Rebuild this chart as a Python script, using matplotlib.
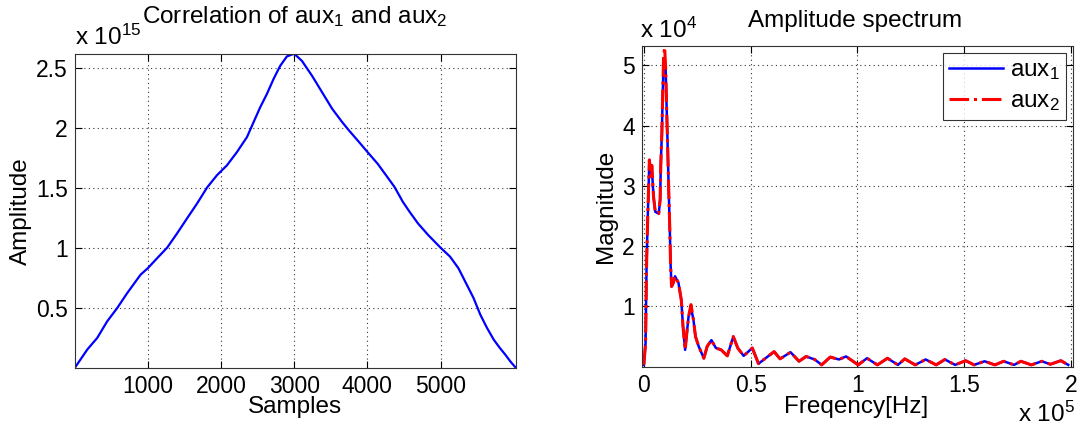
import matplotlib
matplotlib.use("Agg")
import matplotlib.pyplot as plt

plt.rcParams['font.family'] = ['Liberation Sans', 'DejaVu Sans']
plt.rcParams['mathtext.fontset'] = 'custom'
plt.rcParams['mathtext.rm'] = 'Liberation Sans'
plt.rcParams['mathtext.it'] = 'Liberation Sans'

# ---- Correlation data (amplitude in units of 1e15) ----
corr_samples = [1, 173, 309, 445, 582, 718, 900, 1000, 1127, 1264, 1400, 1536, 1673,
                1809, 1945, 2082, 2218, 2355, 2445, 2536, 2627, 2718, 2809, 2900,
                3000, 3106, 3244, 3382, 3520, 3657, 3749, 3887, 4002, 4140, 4255,
                4370, 4485, 4577, 4692, 4830, 5000, 5129, 5244, 5359, 5451, 5543,
                5635, 5726, 5809, 5880, 5960, 6031]
corr_amp = [0.0, 0.154, 0.251, 0.389, 0.50, 0.624, 0.777, 0.832, 0.915, 1.003, 1.122,
            1.247, 1.371, 1.504, 1.607, 1.69, 1.80, 1.925, 2.049, 2.174, 2.284, 2.409,
            2.519, 2.597, 2.62, 2.56, 2.436, 2.298, 2.16, 2.049, 1.98, 1.883, 1.80,
            1.703, 1.607, 1.51, 1.385, 1.302, 1.205, 1.109, 1.003, 0.929, 0.832,
            0.694, 0.583, 0.445, 0.334, 0.237, 0.168, 0.115, 0.05, 0.0]
corr_xticks = [1000, 2000, 3000, 4000, 5000]
corr_yticks = [0.5, 1, 1.5, 2, 2.5]
corr_yticklabels = ['0.5', '1', '1.5', '2', '2.5']

# ---- Spectrum data (frequency in Hz, magnitude in units of 1e4) ----
freq = [0, 812, 1298, 1786, 2597, 3409, 3734, 4545, 5357, 6981, 7631, 7956, 8443,
        8766, 9253, 9740, 10227, 10714, 11201, 11688, 12175, 12500, 12987, 13797,
        14610, 16230, 17532, 18340, 19337, 19967, 20941, 22070, 23230, 24200, 25660,
        28100, 29700, 31660, 33750, 36200, 39100, 41900, 43980, 46750, 50800, 53700,
        57000, 61000, 63800, 68700, 72700, 76000, 80000, 83300, 87300, 91400, 94700,
        100400, 104500, 109400, 114100, 119000, 122200, 127100, 132000, 136900,
        141000, 145800, 150700, 154700, 159600, 164400, 168500, 173400, 176600,
        181500, 186400, 190400, 195300, 198800]
mag_aux1 = [0.03, 0.39, 1.72, 2.43, 3.43, 3.15, 3.30, 2.82, 2.57, 2.54, 2.77, 3.37, 3.87,
            4.42, 5.05, 5.10, 4.92, 4.25, 3.59, 2.88, 2.27, 1.72, 1.33, 1.39,
            1.50, 1.39, 1.11, 0.67, 0.28, 0.50, 0.83, 0.98, 0.78, 0.50, 0.34,
            0.14, 0.34, 0.44, 0.31, 0.28, 0.18, 0.50, 0.31, 0.18, 0.31, 0.05,
            0.14, 0.25, 0.13, 0.24, 0.09, 0.17, 0.12, 0.03, 0.16, 0.12, 0.17,
            0.03, 0.14, 0.03, 0.14, 0.03, 0.13, 0.03, 0.12, 0.03,
            0.12, 0.03, 0.10, 0.03, 0.09, 0.03, 0.09, 0.03, 0.09,
            0.03, 0.09, 0.04, 0.10, 0.03]
mag_aux2 = [0.03, 0.39, 1.72, 2.43, 3.43, 3.15, 3.34, 2.82, 2.57, 2.54, 2.77, 3.37, 3.87,
            4.42, 5.14, 5.30, 4.95, 4.25, 3.59, 2.88, 2.27, 1.72, 1.33, 1.39,
            1.50, 1.39, 1.11, 0.67, 0.28, 0.50, 0.83, 1.03, 0.78, 0.50, 0.34,
            0.14, 0.34, 0.44, 0.31, 0.28, 0.18, 0.50, 0.31, 0.18, 0.31, 0.05,
            0.14, 0.25, 0.13, 0.24, 0.09, 0.17, 0.12, 0.03, 0.16, 0.12, 0.17,
            0.03, 0.14, 0.03, 0.14, 0.03, 0.13, 0.03, 0.12, 0.03,
            0.12, 0.03, 0.10, 0.03, 0.09, 0.03, 0.09, 0.03, 0.09,
            0.03, 0.09, 0.04, 0.10, 0.03]
spec_xticks = [0, 50000, 100000, 150000, 200000]
spec_xticklabels = ['0', '0.5', '1', '1.5', '2']
spec_yticks = [1, 2, 3, 4, 5]

FS = 16.5
W, H = 1085, 429

fig = plt.figure(figsize=(W / 100, H / 100), dpi=100)

def px(x, y):
    return x / W, 1 - y / H

def style(ax):
    ax.grid(True, color='black', linestyle=(0, (1, 3)), linewidth=0.8, alpha=0.8)
    ax.tick_params(direction='in', top=True, right=True, labelsize=FS, length=5,
                   width=0.8, pad=5)
    for s in ax.spines.values():
        s.set_linewidth(0.8)
        s.set_color('#333333')

# Left axes
ax1 = fig.add_axes([74.7 / W, 1 - 368 / H, (516 - 74.7) / W, (368 - 53.7) / H])
ax1.plot(corr_samples, corr_amp, color='#0000ff', linewidth=1.6)
ax1.set_xlim(1, 6031)
ax1.set_ylim(0, 2.62)
ax1.set_xticks(corr_xticks)
ax1.set_xticklabels([str(v) for v in corr_xticks])
ax1.set_yticks(corr_yticks)
ax1.set_yticklabels(corr_yticklabels)
style(ax1)
fig.text(*px(295, 23), r'Correlation of aux$_1$ and aux$_2$', fontsize=FS + 1,
         ha='center', va='baseline')
fig.text(*px(75, 45), r'x 10$^{15}$', fontsize=FS + 1, ha='left', va='baseline')
fig.text(*px(295, 413), 'Samples', fontsize=FS + 1, ha='center', va='baseline')
fig.text(*px(21, 211), 'Amplitude', fontsize=FS + 1, ha='center', va='center', rotation=90)

# Right axes
ax2 = fig.add_axes([641.7 / W, 1 - 366.7 / H, (1073 - 641.7) / W, (366.7 - 46) / H])
ax2.plot(freq, mag_aux1, color='#0000ff', linewidth=1.8, label=r'aux$_1$')
ax2.plot(freq, mag_aux2, color='#ff0000', linewidth=2.2, linestyle='-.', label=r'aux$_2$')
ax2.set_xlim(-1000, 201000)
ax2.set_ylim(0.0, 5.32)
ax2.set_xticks(spec_xticks)
ax2.set_xticklabels(spec_xticklabels)
ax2.set_yticks(spec_yticks)
ax2.set_yticklabels([str(v) for v in spec_yticks])
style(ax2)
fig.text(*px(855, 27), 'Amplitude spectrum', fontsize=FS + 1, ha='center', va='baseline')
fig.text(*px(640, 38), r'x 10$^{4}$', fontsize=FS + 1, ha='left', va='baseline')
fig.text(*px(1018, 422), r'x 10$^{5}$', fontsize=FS + 1, ha='left', va='baseline')
fig.text(*px(856, 413), 'Freqency[Hz]', fontsize=FS + 1, ha='center', va='baseline')
fig.text(*px(606, 206), 'Magnitude', fontsize=FS + 1, ha='center', va='center', rotation=90)
leg = ax2.legend(loc='upper right', bbox_to_anchor=(0.984, 0.978), fontsize=FS + 1,
                 frameon=True, fancybox=False, handlelength=2.2, borderpad=0.25,
                 labelspacing=0.35, handletextpad=0.3, borderaxespad=0.0)
leg.get_frame().set_edgecolor('black')
leg.get_frame().set_linewidth(0.8)

fig.savefig('out.png', dpi=100)
